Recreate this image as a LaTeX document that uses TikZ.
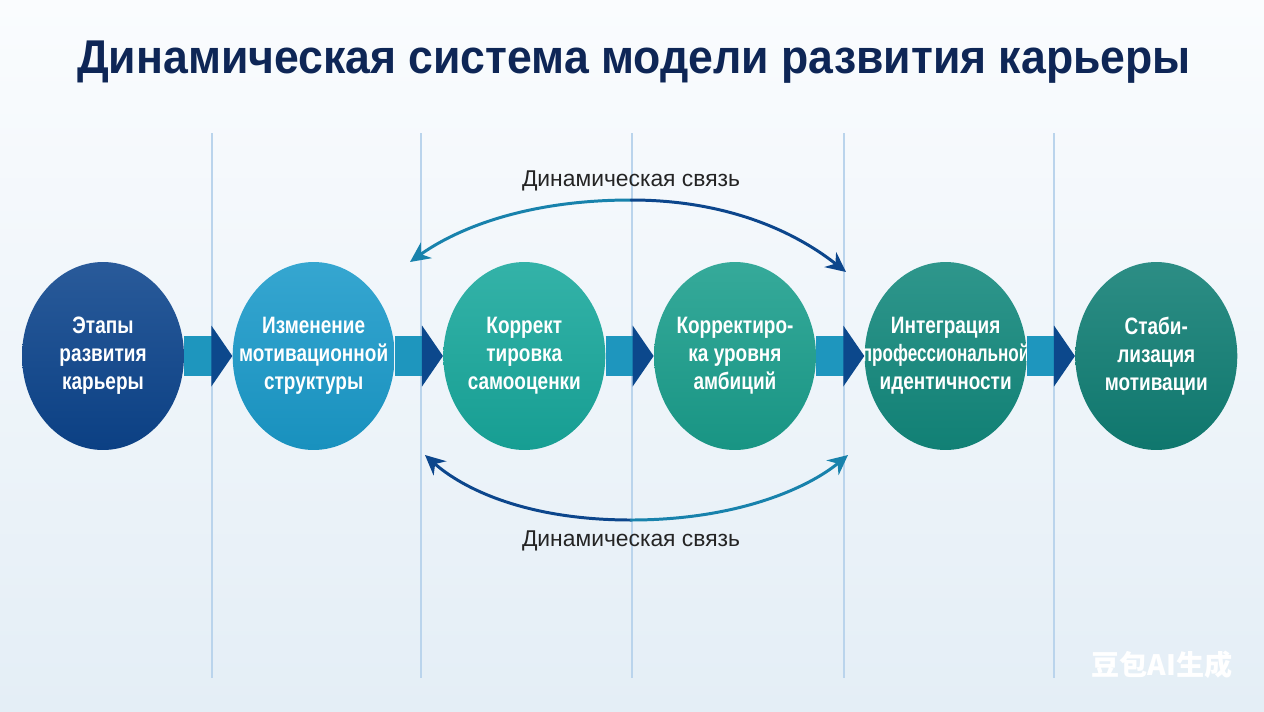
\documentclass[tikz,border=0pt]{standalone}
\usepackage{fontspec}
\setmainfont{Liberation Sans}
\newfontfamily\narrowfont[FakeStretch=0.8]{Liberation Sans}
\newfontfamily\titlefont[FakeStretch=0.94]{Liberation Sans}
\newfontfamily\cjkfont{Noto Sans CJK SC}
\usetikzlibrary{
  arrows.meta,
  positioning,
  shapes.geometric
}
\definecolor{titleblue}{RGB}{14,38,86}
\definecolor{sepline}{RGB}{186,212,236}
\definecolor{bgtop}{RGB}{250,252,254}
\definecolor{bgbottom}{RGB}{228,238,246}
\definecolor{stageA}{RGB}{12,68,140}
\definecolor{stageB}{RGB}{26,154,202}
\definecolor{stageC}{RGB}{24,168,156}
\definecolor{stageD}{RGB}{26,158,140}
\definecolor{stageE}{RGB}{18,136,124}
\definecolor{stageF}{RGB}{16,126,116}
\definecolor{shaft}{RGB}{30,150,190}
\definecolor{head}{RGB}{12,72,140}
\definecolor{linkteal}{RGB}{24,130,172}
\definecolor{linkblue}{RGB}{12,70,140}
\definecolor{labelgray}{RGB}{36,36,36}

\begin{document}
\begin{tikzpicture}[
  x=0.02cm,y=-0.02cm,
  st/.style={ellipse,minimum width=3.24cm,minimum height=3.76cm,inner xsep=-1cm,inner ysep=0pt,
    align=center,text=white,top color=#1!88!white,bottom color=#1!94!black,
    font=\fontsize{13.5}{16}\selectfont\narrowfont\bfseries},
  blk/.style={line width=0.8cm,color=shaft,-{Triangle[length=0.42cm,width=1.2cm,color=head]}},
  dyn/.style={line width=1.7pt,line cap=round},
  tip/.style={-{Stealth[length=0.4cm,width=0.38cm]}},
  sep/.style={sepline,line width=0.7pt},
  lbl/.style={text=labelgray,font=\fontsize{13}{15}\selectfont}
]
\useasboundingbox (0,0) rectangle (1264,711);
\fill[top color=bgtop,bottom color=bgbottom] (0,0) rectangle (1264,711);

\draw[sep] (212,133) -- (212,678);
\draw[sep] (421,133) -- (421,678);
\draw[sep] (632,133) -- (632,678);
\draw[sep] (844,133) -- (844,678);
\draw[sep] (1054,133) -- (1054,678);

\node[text=titleblue,font=\fontsize{27}{31}\selectfont\titlefont\bfseries] (title) at (634,62)
  {Динамическая система модели развития карьеры};

\node[st=stageA] (c1) at (103,356) {Этапы\\развития\\карьеры};
\node[st=stageB,right=0.96cm of c1] (c2) {Изменение\\мотивационной\\структуры};
\node[st=stageC,right=0.96cm of c2] (c3) {Коррект\\тировка\\самооценки};
\node[st=stageD,right=0.96cm of c3] (c4) {Корректиро-\\ка уровня\\амбиций};
\node[st=stageE,right=0.96cm of c4] (c5) {Интеграция\\\scalebox{0.9}[1]{профессиональной}\\идентичности};
\node[st=stageF,right=0.96cm of c5] (c6) {Стаби-\\лизация\\мотивации};

\draw[blk] (c1.east) -- (c2.west);
\draw[blk] (c2.east) -- (c3.west);
\draw[blk] (c3.east) -- (c4.west);
\draw[blk] (c4.east) -- (c5.west);
\draw[blk] (c5.east) -- (c6.west);

\coordinate (toptop) at (631,200);
\coordinate (topleft) at (410,262);
\coordinate (topright) at (846,272);
\coordinate (botbot) at (631,520);
\coordinate (botleft) at (425,455);
\coordinate (botright) at (848,455);

\draw[dyn,tip,linkteal] (toptop) .. controls (520,200) and (452,232) .. (topleft);
\draw[dyn,tip,linkblue] (toptop) .. controls (742,200) and (808,242) .. (topright);
\draw[dyn,tip,linkblue] (botbot) .. controls (525,520) and (462,488) .. (botleft);
\draw[dyn,tip,linkteal] (botbot) .. controls (737,520) and (808,488) .. (botright);

\node[lbl] (linktop) at (631,181) {Динамическая связь};
\node[lbl] (linkbot) at (631,541) {Динамическая связь};

\node[text=white,font=\fontsize{16}{18}\selectfont\cjkfont\bfseries] (mark) at (1162,665) {豆包AI生成};
\end{tikzpicture}
\end{document}
